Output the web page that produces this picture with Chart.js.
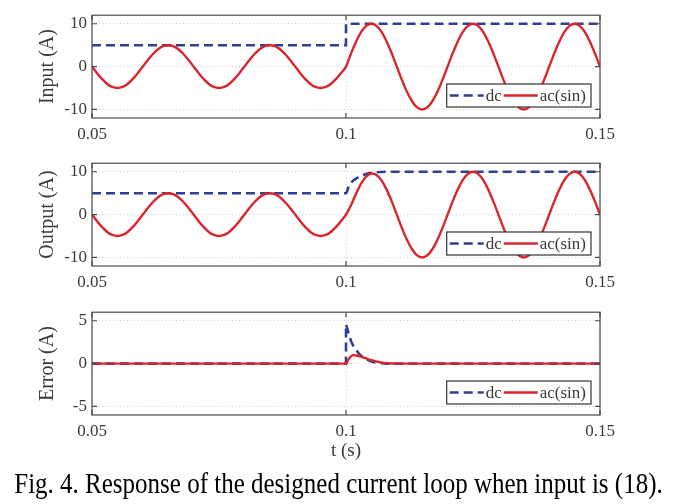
<!DOCTYPE html>
<html>
<head>
<meta charset="utf-8">
<script src="https://cdn.jsdelivr.net/npm/chart.js@4.4.1/dist/chart.umd.min.js"></script>
<style>
  body { margin: 0; background: #fff; width: 677px; height: 504px; position: relative; overflow: hidden; }
  canvas { position: absolute; left: 0; }
  #caption {
    position: absolute; left: 0; top: 468px; width: 677px; line-height: 30px;
    text-align: center; font-family: "Liberation Serif", serif; font-size: 25px; color: #000;
    transform: scaleY(1.2); white-space: nowrap;
  }
</style>
</head>
<body>
<canvas id="input-chart" width="677" height="140" style="top:0px"></canvas>
<canvas id="output-chart" width="677" height="140" style="top:148px"></canvas>
<canvas id="error-chart" width="677" height="170" style="top:297px"></canvas>
<div id="caption">Fig. 4. Response of the designed current loop when input is (18).</div>
<script>
// time base of the ac traces (s)
const T_AC = [
  0.050, 0.051, 0.052, 0.053, 0.054, 0.055, 0.056, 0.057, 0.058, 0.059,
  0.060, 0.061, 0.062, 0.063, 0.064, 0.065, 0.066, 0.067, 0.068, 0.069,
  0.070, 0.071, 0.072, 0.073, 0.074, 0.075, 0.076, 0.077, 0.078, 0.079,
  0.080, 0.081, 0.082, 0.083, 0.084, 0.085, 0.086, 0.087, 0.088, 0.089,
  0.090, 0.091, 0.092, 0.093, 0.094, 0.095, 0.096, 0.097, 0.098, 0.099,
  0.100, 0.101, 0.102, 0.103, 0.104, 0.105, 0.106, 0.107, 0.108, 0.109,
  0.110, 0.111, 0.112, 0.113, 0.114, 0.115, 0.116, 0.117, 0.118, 0.119,
  0.120, 0.121, 0.122, 0.123, 0.124, 0.125, 0.126, 0.127, 0.128, 0.129,
  0.130, 0.131, 0.132, 0.133, 0.134, 0.135, 0.136, 0.137, 0.138, 0.139,
  0.140, 0.141, 0.142, 0.143, 0.144, 0.145, 0.146, 0.147, 0.148, 0.149,
  0.150,
];

const INPUT_AC = [
  0, -1.55, -2.94, -4.05, -4.76, -5, -4.76, -4.05, -2.94, -1.55,
  0, 1.55, 2.94, 4.05, 4.76, 5, 4.76, 4.05, 2.94, 1.55,
  0, -1.55, -2.94, -4.05, -4.76, -5, -4.76, -4.05, -2.94, -1.55,
  0, 1.55, 2.94, 4.05, 4.76, 5, 4.76, 4.05, 2.94, 1.55,
  0, -1.55, -2.94, -4.05, -4.76, -5, -4.76, -4.05, -2.94, -1.55,
  0, 3.09, 5.88, 8.09, 9.51, 10, 9.51, 8.09, 5.88, 3.09,
  0, -3.09, -5.88, -8.09, -9.51, -10, -9.51, -8.09, -5.88, -3.09,
  0, 3.09, 5.88, 8.09, 9.51, 10, 9.51, 8.09, 5.88, 3.09,
  0, -3.09, -5.88, -8.09, -9.51, -10, -9.51, -8.09, -5.88, -3.09,
  0, 3.09, 5.88, 8.09, 9.51, 10, 9.51, 8.09, 5.88, 3.09,
  0,
];

const OUTPUT_AC = [
  0, -1.55, -2.94, -4.05, -4.76, -5, -4.76, -4.05, -2.94, -1.55,
  0, 1.55, 2.94, 4.05, 4.76, 5, 4.76, 4.05, 2.94, 1.55,
  0, -1.55, -2.94, -4.05, -4.76, -5, -4.76, -4.05, -2.94, -1.55,
  0, 1.55, 2.94, 4.05, 4.76, 5, 4.76, 4.05, 2.94, 1.55,
  0, -1.55, -2.94, -4.05, -4.76, -5, -4.76, -4.05, -2.94, -1.55,
  0, 2.24, 4.93, 7.29, 8.91, 9.6, 9.26, 7.97, 5.83, 3.09,
  0, -3.09, -5.88, -8.09, -9.51, -10, -9.51, -8.09, -5.88, -3.09,
  0, 3.09, 5.88, 8.09, 9.51, 10, 9.51, 8.09, 5.88, 3.09,
  0, -3.09, -5.88, -8.09, -9.51, -10, -9.51, -8.09, -5.88, -3.09,
  0, 3.09, 5.88, 8.09, 9.51, 10, 9.51, 8.09, 5.88, 3.09,
  0,
];

const T_DC_IN = [0.05, 0.1, 0.1, 0.15];
const INPUT_DC = [5, 5, 10, 10];

const T_DC_OUT = [0.05, 0.1, 0.1005, 0.101, 0.1015, 0.102, 0.1025, 0.103, 0.104, 0.105, 0.106, 0.108, 0.15];
const OUTPUT_DC = [5, 5, 6.4, 7.4, 8.0, 8.4, 8.8, 9.1, 9.5, 9.75, 9.9, 10, 10];

const T_ERR_DC = [0.05, 0.1, 0.1, 0.1005, 0.101, 0.1015, 0.102, 0.1025, 0.103, 0.104, 0.105, 0.106, 0.108, 0.15];
const ERROR_DC = [0, 0, 4.6, 3.6, 2.6, 2.0, 1.6, 1.2, 0.9, 0.5, 0.25, 0.1, 0, 0];

const T_ERR_AC = [0.05, 0.1, 0.1005, 0.101, 0.1015, 0.102, 0.103, 0.104, 0.105, 0.106, 0.107, 0.108, 0.109, 0.11, 0.15];
const ERROR_AC = [0, 0, 0.5, 0.85, 1.0, 0.95, 0.8, 0.6, 0.4, 0.25, 0.12, 0.05, 0.02, 0, 0];

const X_TICKS = [0.05, 0.1, 0.15];
const Y_TICKS_IO = [-10, 0, 10];
const Y_TICKS_ERR = [-5, 0, 5];

const DC_COLOR = "#2f3f94";
const AC_COLOR = "#d9262c";
const INK = "#3a3a3a";
const SERIF = "'Liberation Serif', 'DejaVu Serif', serif";

function points(xs, ys) {
  return xs.map((x, i) => ({ x: x, y: ys[i] }));
}

// box around the plot area with ticks pointing inward
const insideFrame = {
  id: "insideFrame",
  afterDraw(chart) {
    const { ctx, chartArea: a, scales } = chart;
    ctx.save();
    ctx.strokeStyle = "#4a4a4a";
    ctx.lineWidth = 1.2;
    ctx.strokeRect(a.left, a.top, a.right - a.left, a.bottom - a.top);
    ctx.beginPath();
    scales.y.ticks.forEach((t) => {
      const y = scales.y.getPixelForValue(t.value);
      ctx.moveTo(a.left, y);
      ctx.lineTo(a.left + 5, y);
      ctx.moveTo(a.right, y);
      ctx.lineTo(a.right - 5, y);
    });
    scales.x.ticks.forEach((t) => {
      const x = scales.x.getPixelForValue(t.value);
      ctx.moveTo(x, a.bottom);
      ctx.lineTo(x, a.bottom - 5);
      ctx.moveTo(x, a.top);
      ctx.lineTo(x, a.top + 5);
    });
    ctx.stroke();
    ctx.restore();
  },
};

// matlab-style horizontal legend in the lower right corner
const boxLegend = {
  id: "boxLegend",
  afterDatasetsDraw(chart) {
    const { ctx, chartArea: a } = chart;
    const sets = chart.data.datasets;
    const sample = 34;
    ctx.save();
    ctx.font = "17px " + SERIF;
    let w = 4;
    sets.forEach((ds) => {
      w += sample + 2 + ctx.measureText(ds.label).width + 2;
    });
    w += 2;
    const h = 23;
    const right = a.right - 9;
    const bottom = a.bottom - 11;
    const left = right - w;
    const top = bottom - h;
    ctx.fillStyle = "#fff";
    ctx.fillRect(left, top, w, h);
    ctx.strokeStyle = "#333";
    ctx.lineWidth = 1.2;
    ctx.strokeRect(left, top, w, h);
    const cy = top + h / 2;
    let x = left + 3;
    sets.forEach((ds) => {
      ctx.beginPath();
      ctx.setLineDash(ds.borderDash || []);
      ctx.strokeStyle = ds.borderColor;
      ctx.lineWidth = ds.borderWidth;
      ctx.moveTo(x, cy);
      ctx.lineTo(x + sample, cy);
      ctx.stroke();
      ctx.setLineDash([]);
      x += sample + 2;
      ctx.fillStyle = INK;
      ctx.textBaseline = "middle";
      ctx.fillText(ds.label, x, cy + 1);
      x += ctx.measureText(ds.label).width + 2;
    });
    ctx.restore();
  },
};

function makePanel(id, dc, ac, yMin, yMax, yTicks, yTitle, showXTitle) {
  const el = document.getElementById(id);
  return new Chart(el, {
    type: "line",
    data: {
      datasets: [
        {
          label: "dc",
          data: dc.data,
          borderColor: DC_COLOR,
          borderWidth: 2.6,
          borderDash: [9, 5],
          pointRadius: 0,
          tension: 0,
          cubicInterpolationMode: dc.smooth ? "monotone" : "default",
          order: 1,
        },
        {
          label: "ac(sin)",
          data: ac,
          borderColor: AC_COLOR,
          borderWidth: 2.4,
          pointRadius: 0,
          cubicInterpolationMode: "monotone",
          order: 0,
        },
      ],
    },
    options: {
      responsive: false,
      animation: false,
      devicePixelRatio: 1,
      layout: { padding: { top: 12, right: 77, left: 0, bottom: 0 } },
      plugins: { legend: { display: false }, tooltip: { enabled: false } },
      scales: {
        x: {
          type: "linear",
          min: 0.05,
          max: 0.15,
          afterBuildTicks: (s) => {
            s.ticks = X_TICKS.map((v) => ({ value: v }));
          },
          afterFit: (s) => {
            s.height = showXTitle ? 52 : 22;
          },
          ticks: {
            padding: 6,
            maxRotation: 0,
            color: INK,
            font: { family: SERIF, size: 17 },
            callback: (v) => String(Number(v.toFixed(2))),
          },
          grid: { color: "#cfcfcf", drawTicks: false },
          border: { display: false, dash: [1, 2.5] },
          title: {
            display: showXTitle,
            text: "t (s)",
            color: INK,
            font: { family: SERIF, size: 19 },
            padding: { top: 0, bottom: 5 },
          },
        },
        y: {
          min: yMin,
          max: yMax,
          afterBuildTicks: (s) => {
            s.ticks = yTicks.map((v) => ({ value: v }));
          },
          afterFit: (s) => {
            s.width = 92;
          },
          ticks: {
            padding: 5,
            color: INK,
            font: { family: SERIF, size: 17 },
          },
          grid: { color: "#cfcfcf", drawTicks: false },
          border: { display: false, dash: [1, 2.5] },
          title: {
            display: true,
            text: yTitle,
            color: INK,
            font: { family: SERIF, size: 20 },
            padding: { top: 36, bottom: 0 },
          },
        },
      },
    },
    plugins: [boxLegend, insideFrame],
  });
}

makePanel(
  "input-chart",
  { data: points(T_DC_IN, INPUT_DC), smooth: false },
  points(T_AC, INPUT_AC),
  -12, 12, Y_TICKS_IO, "Input (A)", false
);
makePanel(
  "output-chart",
  { data: points(T_DC_OUT, OUTPUT_DC), smooth: true },
  points(T_AC, OUTPUT_AC),
  -12, 12, Y_TICKS_IO, "Output (A)", false
);
makePanel(
  "error-chart",
  { data: points(T_ERR_DC, ERROR_DC), smooth: false },
  points(T_ERR_AC, ERROR_AC),
  -6, 6, Y_TICKS_ERR, "Error (A)", true
);
</script>
</body>
</html>
